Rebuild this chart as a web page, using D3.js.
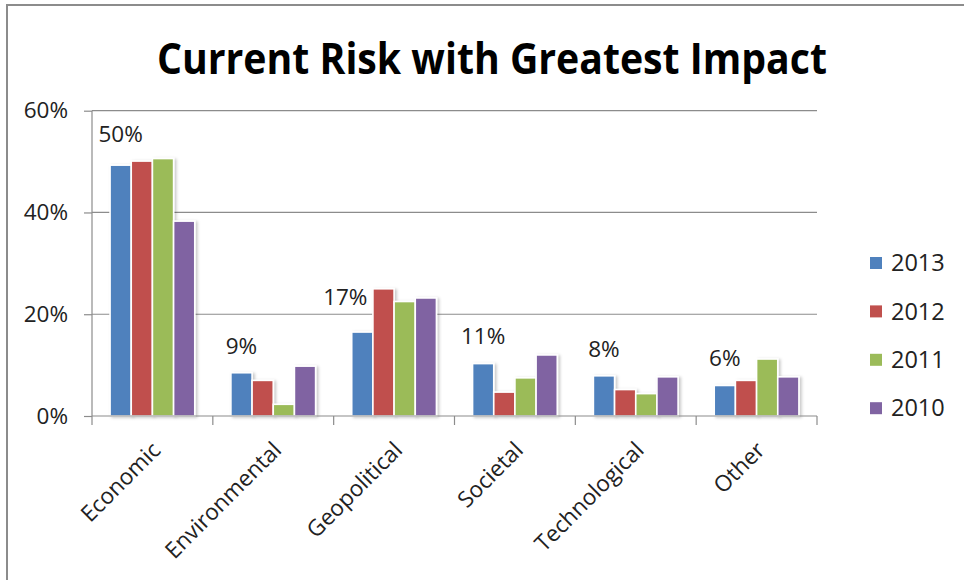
<!DOCTYPE html>
<html>
<head>
<meta charset="utf-8">
<script src="https://cdn.jsdelivr.net/npm/d3@7"></script>
<style>
  html, body { margin: 0; padding: 0; background: #fff; }
  svg { display: block; }
</style>
</head>
<body>
<svg id="chart" width="964" height="580"></svg>
<script>
const categories = ["Economic", "Environmental", "Geopolitical", "Societal", "Technological", "Other"];
const seriesNames = ["2013", "2012", "2011", "2010"];
const values2013 = [49.3, 8.5, 16.5, 10.3, 7.9, 6.0];
const values2012 = [50.1, 7.0, 25.0, 4.7, 5.2, 7.0];
const values2011 = [50.6, 2.3, 22.5, 7.5, 4.4, 11.2];
const values2010 = [38.3, 9.8, 23.2, 12.0, 7.7, 7.7];
const labels2013 = ["50%", "9%", "17%", "11%", "8%", "6%"];
const yTicks = [0, 20, 40, 60];
const titleText = "Current Risk with Greatest Impact";

(function () {
const seriesValues = [values2013, values2012, values2011, values2010];
const colors = ["#4F81BD", "#C0504D", "#9BBB59", "#8064A2"];
const FONT = "'Open Sans', 'Liberation Sans', sans-serif";
const FS = 22.5;

const svg = d3.select("#chart");

const defs = svg.append("defs");
const f = defs.append("filter").attr("id", "shadow").attr("x", "-20%").attr("y", "-10%").attr("width", "160%").attr("height", "130%");
f.append("feDropShadow").attr("dx", 2).attr("dy", 1).attr("stdDeviation", 1.5).attr("flood-color", "#000").attr("flood-opacity", 0.22);

svg.append("rect").attr("x", 7).attr("y", 5).attr("width", 980).attr("height", 600)
  .attr("fill", "none").attr("stroke", "#8c8c8c").attr("stroke-width", 2);

svg.append("text")
  .attr("x", 492).attr("y", 74)
  .attr("text-anchor", "middle")
  .attr("font-family", FONT).attr("font-weight", 700).attr("font-size", 43)
  .attr("textLength", 670).attr("lengthAdjust", "spacingAndGlyphs")
  .attr("fill", "#000")
  .text(titleText);

const pLeft = 92, pRight = 817, pTop = 110.7, pBottom = 416;

const x = d3.scaleBand().domain(categories).range([pLeft, pRight]).padding(0);
const xs = d3.scaleBand().domain(seriesNames).range([0, x.bandwidth()]).paddingInner(0).paddingOuter(0.853);
const y = d3.scaleLinear().domain([0, 60]).range([pBottom, pTop]);

svg.append("g").selectAll("line").data(yTicks.filter(t => t > 0)).join("line")
  .attr("x1", pLeft).attr("x2", pRight)
  .attr("y1", d => y(d)).attr("y2", d => y(d))
  .attr("stroke", "#8c8c8c").attr("stroke-width", 1.2);

const gBars = svg.append("g");
seriesNames.forEach((s, si) => {
  gBars.append("g").attr("filter", "url(#shadow)")
    .selectAll("rect").data(categories.map((c, i) => ({ c, v: seriesValues[si][i] }))).join("rect")
    .attr("x", d => x(d.c) + xs(s))
    .attr("y", d => y(d.v))
    .attr("width", xs.bandwidth())
    .attr("height", d => y(0) - y(d.v))
    .attr("fill", colors[si])
    .attr("stroke", "#fff").attr("stroke-width", 1.6);
});

const yAxis = d3.axisLeft(y).tickValues(yTicks).tickSize(8).tickPadding(16).tickFormat(d => d + "%");
const gy = svg.append("g").attr("transform", `translate(${pLeft},0)`).call(yAxis);
gy.select(".domain").attr("stroke", "#8c8c8c").attr("stroke-width", 1.2).attr("d", `M0,${pTop}V${pBottom}`);
gy.selectAll(".tick line").attr("stroke", "#8c8c8c").attr("stroke-width", 1.2);
gy.selectAll(".tick text").attr("font-family", FONT).attr("font-size", FS).attr("fill", "#222");

const xAxis = d3.axisBottom(x).tickSize(0).tickFormat("");
const gx = svg.append("g").attr("transform", `translate(0,${pBottom})`).call(xAxis);
gx.select(".domain").attr("stroke", "#8c8c8c").attr("stroke-width", 1.2).attr("d", `M${pLeft},0H${pRight}`);
const boundaries = categories.map(c => x(c)).concat([pRight]);
gx.selectAll("line.bound").data(boundaries).join("line").attr("class", "bound")
  .attr("x1", d => d).attr("x2", d => d).attr("y1", 0).attr("y2", 9)
  .attr("stroke", "#8c8c8c").attr("stroke-width", 1.2);

svg.append("g").selectAll("text").data(categories).join("text")
  .attr("transform", d => `translate(${x(d) + x.bandwidth() / 2 + 4},${pBottom + 30}) rotate(-45)`)
  .attr("text-anchor", "end")
  .attr("dy", "0.35em")
  .attr("font-family", FONT).attr("font-size", FS).attr("fill", "#222")
  .text(d => d);

const labelNudge = [[0, -4], [0, 0], [-17, -8], [0, 0], [0, 0], [0, 0]];
svg.append("g").selectAll("text").data(categories).join("text")
  .attr("x", (d, i) => x(d) + xs("2013") + xs.bandwidth() / 2 + labelNudge[i][0])
  .attr("y", (d, i) => y(values2013[i]) - 27 + labelNudge[i][1])
  .attr("dy", "0.35em")
  .attr("text-anchor", "middle")
  .attr("font-family", FONT).attr("font-size", FS).attr("fill", "#222")
  .text((d, i) => labels2013[i]);

const legend = svg.append("g").selectAll("g").data(seriesNames).join("g")
  .attr("transform", (d, i) => `translate(870,${263 + i * 48.4})`);
legend.append("rect").attr("x", 0).attr("y", -6).attr("width", 12).attr("height", 12)
  .attr("fill", (d, i) => colors[i]);
legend.append("text").attr("x", 21).attr("dy", "0.35em")
  .attr("font-family", FONT).attr("font-size", FS + 1).attr("fill", "#222")
  .text(d => d);
})();
</script>
</body>
</html>
